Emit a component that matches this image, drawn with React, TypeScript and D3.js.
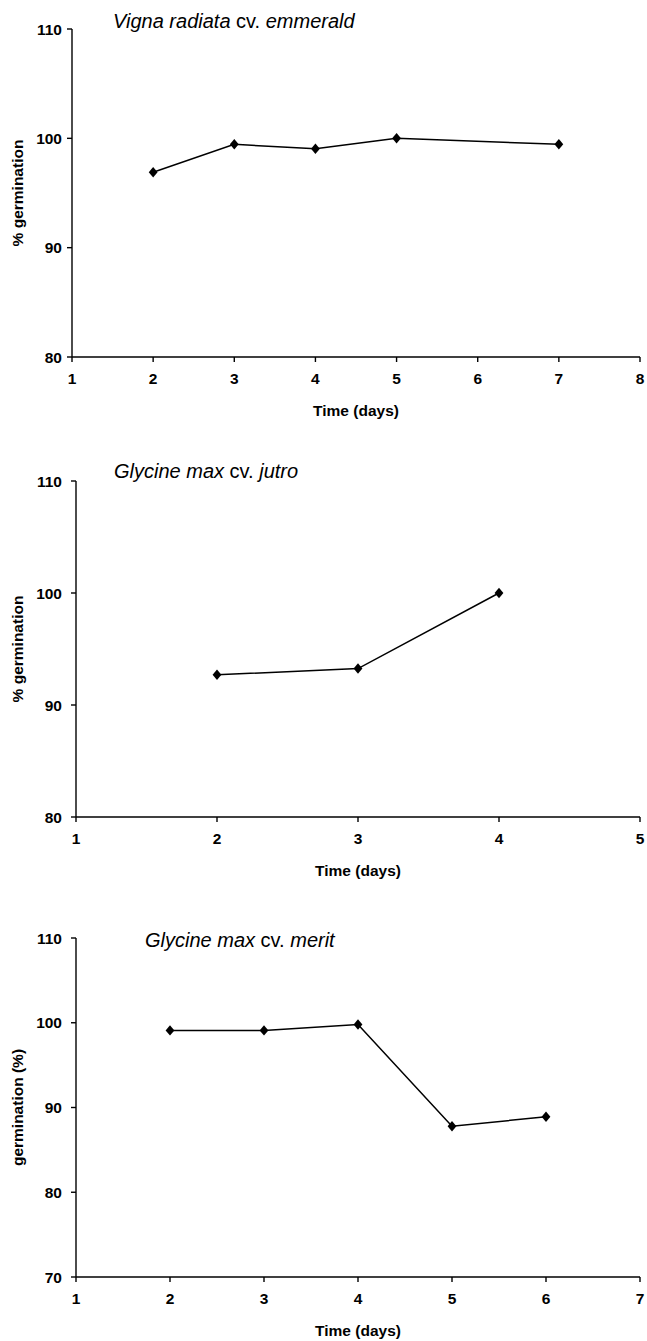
import React from "react";
import * as d3 from "d3";

// ---- data ----
const days1 = [2, 3, 4, 5, 7];
const germ1 = [96.9, 99.45, 99.05, 100, 99.45];
const xTicks1 = [1, 2, 3, 4, 5, 6, 7, 8];
const yTicks1 = [80, 90, 100, 110];

const days2 = [2, 3, 4];
const germ2 = [92.7, 93.25, 100];
const xTicks2 = [1, 2, 3, 4, 5];
const yTicks2 = [80, 90, 100, 110];

const days3 = [2, 3, 4, 5, 6];
const germ3 = [99.1, 99.1, 99.8, 87.8, 88.9];
const xTicks3 = [1, 2, 3, 4, 5, 6, 7];
const yTicks3 = [70, 80, 90, 100, 110];

const titles = [
  { italic1: "Vigna radiata", plain: " cv. ", italic2: "emmerald" },
  { italic1: "Glycine max", plain: " cv. ", italic2: "jutro" },
  { italic1: "Glycine max", plain: " cv. ", italic2: "merit" },
];
const yLabels = ["% germination", "% germination", "germination (%)"];
const xLabel = "Time (days)";

// ---- layout ----
const layouts = [
  { left: 72, right: 640, top: 29, bottom: 357, titleX: 113, titleY: 28, yLabOff: 10 },
  { left: 76, right: 640, top: 481, bottom: 817, titleX: 114, titleY: 478, yLabOff: 14 },
  { left: 76, right: 640, top: 938, bottom: 1277, titleX: 145, titleY: 947, yLabOff: 14 },
];

const panels = [
  { days: days1, germ: germ1, xTicks: xTicks1, yTicks: yTicks1 },
  { days: days2, germ: germ2, xTicks: xTicks2, yTicks: yTicks2 },
  { days: days3, germ: germ3, xTicks: xTicks3, yTicks: yTicks3 },
];

const FONT = "'Liberation Sans', Arial, Helvetica, sans-serif";

const narrowDiamond = {
  draw(ctx: any, size: number) {
    const w = Math.sqrt(size) * 0.42;
    const h = Math.sqrt(size) * 0.5;
    ctx.moveTo(0, -h);
    ctx.lineTo(w, 0);
    ctx.lineTo(0, h);
    ctx.lineTo(-w, 0);
    ctx.closePath();
  },
};

function Panel({ idx }: { idx: number }) {
  const p = panels[idx];
  const L = layouts[idx];
  const x = d3
    .scaleLinear()
    .domain([p.xTicks[0], p.xTicks[p.xTicks.length - 1]])
    .range([L.left, L.right]);
  const y = d3
    .scaleLinear()
    .domain([p.yTicks[0], p.yTicks[p.yTicks.length - 1]])
    .range([L.bottom, L.top]);
  const pts = p.days.map((d, i) => [x(d), y(p.germ[i])] as [number, number]);
  const line = d3.line()(pts) || "";
  const sym = d3.symbol().type(narrowDiamond as any).size(110)() || "";
  const t = titles[idx];
  const midY = (L.top + L.bottom) / 2;
  const midX = (L.left + L.right) / 2;
  return (
    <g>
      <text x={L.titleX} y={L.titleY} fontFamily={FONT} fontSize={20} fill="#000">
        <tspan fontStyle="italic">{t.italic1}</tspan>
        <tspan>{t.plain}</tspan>
        <tspan fontStyle="italic">{t.italic2}</tspan>
      </text>
      {/* axes */}
      <line x1={L.left} x2={L.left} y1={L.top} y2={L.bottom} stroke="#000" strokeWidth={1.4} />
      <line x1={L.left} x2={L.right} y1={L.bottom} y2={L.bottom} stroke="#000" strokeWidth={1.4} />
      {p.yTicks.map((v) => (
        <g key={"y" + v}>
          <line x1={L.left - 5} x2={L.left} y1={y(v)} y2={y(v)} stroke="#000" strokeWidth={1.4} />
          <text
            x={L.left - L.yLabOff}
            y={y(v)}
            dy="0.36em"
            textAnchor="end"
            fontFamily={FONT}
            fontWeight="bold"
            fontSize={15.5}
          >
            {v}
          </text>
        </g>
      ))}
      {p.xTicks.map((v) => (
        <g key={"x" + v}>
          <line x1={x(v)} x2={x(v)} y1={L.bottom} y2={L.bottom + 5} stroke="#000" strokeWidth={1.4} />
          <text
            x={x(v)}
            y={L.bottom + 27}
            textAnchor="middle"
            fontFamily={FONT}
            fontWeight="bold"
            fontSize={15.5}
          >
            {v}
          </text>
        </g>
      ))}
      <text
        x={midX}
        y={L.bottom + 59}
        textAnchor="middle"
        fontFamily={FONT}
        fontWeight="bold"
        fontSize={15.5}
      >
        {xLabel}
      </text>
      <text
        transform={`translate(23,${midY}) rotate(-90)`}
        textAnchor="middle"
        fontFamily={FONT}
        fontWeight="bold"
        fontSize={15.5}
      >
        {yLabels[idx]}
      </text>
      <path d={line} fill="none" stroke="#000" strokeWidth={1.5} />
      {pts.map((pt, i) => (
        <path key={i} d={sym} transform={`translate(${pt[0]},${pt[1]})`} fill="#000" />
      ))}
    </g>
  );
}

export default function App() {
  return (
    <svg
      width={647}
      height={1341}
      style={{ position: "absolute", left: 0, top: 0, background: "#fff" }}
    >
      <rect width={647} height={1341} fill="#fff" />
      {[0, 1, 2].map((i) => (
        <Panel key={i} idx={i} />
      ))}
    </svg>
  );
}
